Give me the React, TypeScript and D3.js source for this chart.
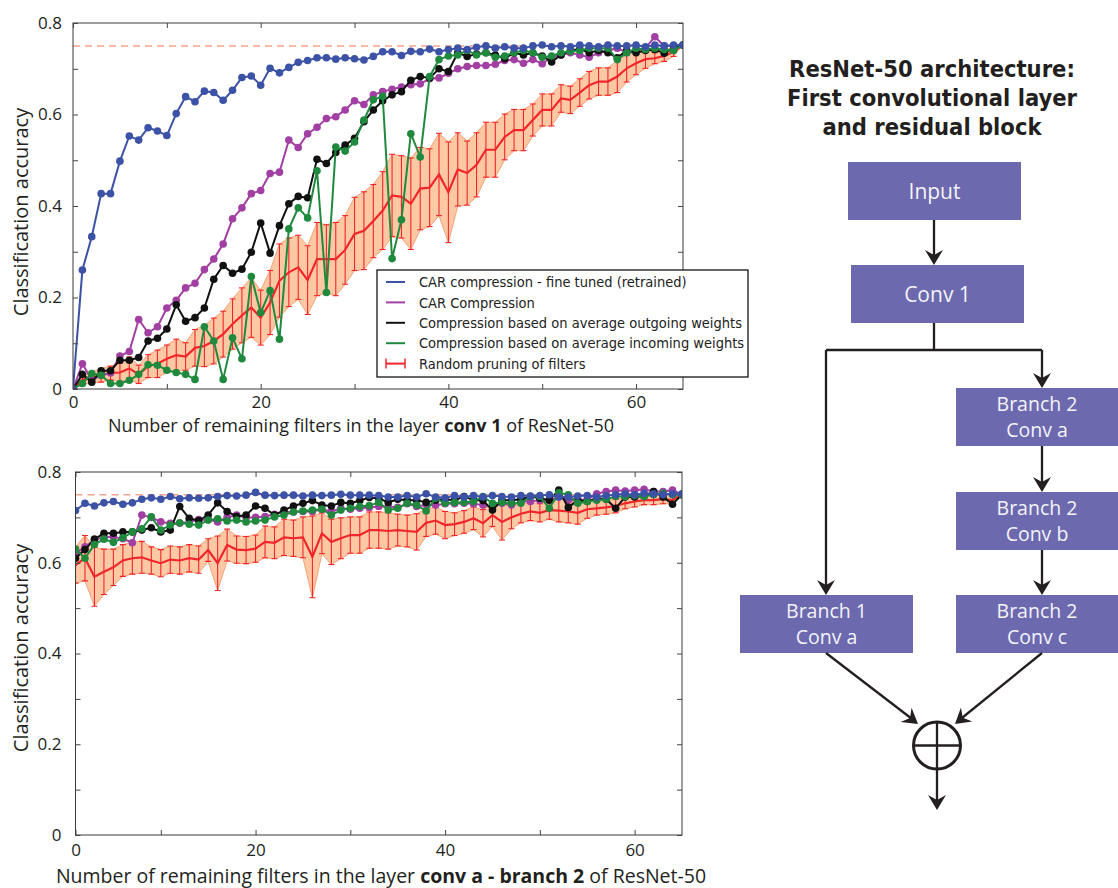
import React, { useEffect, useRef } from "react";
import * as d3 from "d3";

// ---- conv 1 panel (remaining filters 0..65) ----
const topFilters = d3.range(0, 66);
const blueTop = [0.0, 0.26, 0.333, 0.427, 0.427, 0.498, 0.553, 0.544, 0.571, 0.564,
  0.554, 0.602, 0.639, 0.628, 0.651, 0.648, 0.631, 0.653, 0.681, 0.684,
  0.664, 0.701, 0.691, 0.703, 0.714, 0.718, 0.724, 0.724, 0.721, 0.724,
  0.722, 0.719, 0.727, 0.737, 0.737, 0.729, 0.738, 0.737, 0.743, 0.737,
  0.742, 0.745, 0.742, 0.747, 0.75, 0.745, 0.748, 0.745, 0.745, 0.75,
  0.752, 0.748, 0.75, 0.748, 0.752, 0.75, 0.748, 0.752, 0.75, 0.75,
  0.752, 0.748, 0.752, 0.75, 0.752, 0.752];
const purpleTop = [0.0, 0.055, 0.02, 0.03, 0.035, 0.072, 0.082, 0.152, 0.123, 0.136,
  0.177, 0.194, 0.221, 0.231, 0.261, 0.284, 0.317, 0.372, 0.396, 0.427,
  0.434, 0.471, 0.474, 0.544, 0.528, 0.558, 0.572, 0.591, 0.595, 0.61,
  0.63, 0.622, 0.643, 0.65, 0.655, 0.66, 0.665, 0.667, 0.678, 0.68,
  0.69, 0.7, 0.705, 0.707, 0.707, 0.71, 0.718, 0.72, 0.712, 0.72,
  0.711, 0.725, 0.73, 0.735, 0.73, 0.725, 0.735, 0.74, 0.745, 0.735,
  0.74, 0.745, 0.77, 0.75, 0.75, 0.752];
const blackTop = [0.0, 0.032, 0.015, 0.04, 0.04, 0.063, 0.063, 0.069, 0.105, 0.111,
  0.131, 0.184, 0.148, 0.156, 0.177, 0.24, 0.27, 0.253, 0.262, 0.299,
  0.363, 0.297, 0.357, 0.405, 0.421, 0.418, 0.502, 0.493, 0.517, 0.533,
  0.548, 0.584, 0.61, 0.63, 0.643, 0.65, 0.675, 0.683, 0.68, 0.7,
  0.694, 0.735, 0.727, 0.732, 0.735, 0.73, 0.722, 0.735, 0.73, 0.735,
  0.728, 0.715, 0.73, 0.74, 0.743, 0.735, 0.74, 0.735, 0.724, 0.74,
  0.735, 0.74, 0.742, 0.734, 0.745, 0.752];
const greenTop = [0.0, 0.012, 0.034, 0.03, 0.012, 0.012, 0.019, 0.032, 0.053, 0.052,
  0.041, 0.036, 0.032, 0.021, 0.136, 0.105, 0.021, 0.112, 0.066, 0.246,
  0.167, 0.215, 0.109, 0.35, 0.396, 0.374, 0.477, 0.211, 0.529, 0.52,
  0.54, 0.588, 0.632, 0.64, 0.285, 0.37, 0.558, 0.507, 0.683, 0.72,
  0.728, 0.73, 0.74, 0.73, 0.735, 0.725, 0.728, 0.735, 0.74, 0.735,
  0.725, 0.728, 0.735, 0.738, 0.74, 0.745, 0.745, 0.745, 0.72, 0.735,
  0.745, 0.742, 0.745, 0.742, 0.74, 0.752];
const redTop = [0.0, 0.02, 0.025, 0.03, 0.035, 0.036, 0.045, 0.032, 0.05, 0.055,
  0.066, 0.074, 0.071, 0.09, 0.094, 0.105, 0.12, 0.142, 0.161, 0.178,
  0.156, 0.189, 0.237, 0.255, 0.266, 0.238, 0.284, 0.284, 0.284, 0.304,
  0.339, 0.346, 0.367, 0.39, 0.423, 0.42, 0.405, 0.438, 0.44, 0.469,
  0.43, 0.48, 0.472, 0.49, 0.523, 0.523, 0.551, 0.566, 0.566, 0.588,
  0.61, 0.61, 0.635, 0.632, 0.648, 0.664, 0.672, 0.672, 0.683, 0.701,
  0.712, 0.721, 0.723, 0.728, 0.737, 0.752];
const redTopStd = [0, 0.01, 0.012, 0.015, 0.015, 0.02, 0.025, 0.02, 0.025, 0.03,
  0.03, 0.035, 0.03, 0.04, 0.045, 0.05, 0.05, 0.055, 0.06, 0.065,
  0.06, 0.07, 0.08, 0.075, 0.07, 0.075, 0.08, 0.075, 0.08, 0.075,
  0.08, 0.085, 0.08, 0.085, 0.09, 0.09, 0.1, 0.09, 0.085, 0.09,
  0.11, 0.08, 0.07, 0.07, 0.06, 0.06, 0.05, 0.045, 0.045, 0.035,
  0.035, 0.035, 0.03, 0.03, 0.03, 0.03, 0.03, 0.03, 0.035, 0.03,
  0.025, 0.02, 0.012, 0.012, 0.01, 0];

// ---- conv a - branch 2 panel (remaining filters 1..65) ----
const botFilters = d3.range(1, 66);
const blueBot = [0.715, 0.731, 0.725, 0.732, 0.735, 0.729, 0.732, 0.74, 0.743, 0.74,
  0.746, 0.741, 0.743, 0.742, 0.743, 0.746, 0.748, 0.747, 0.749, 0.755,
  0.749, 0.748, 0.749, 0.749, 0.747, 0.749, 0.748, 0.749, 0.751, 0.749,
  0.749, 0.749, 0.748, 0.745, 0.745, 0.748, 0.745, 0.752, 0.745, 0.743,
  0.748, 0.745, 0.748, 0.745, 0.748, 0.746, 0.745, 0.748, 0.747, 0.748,
  0.75, 0.745, 0.745, 0.747, 0.748, 0.745, 0.748, 0.75, 0.752, 0.75,
  0.753, 0.752, 0.75, 0.752, 0.752];
const purpleBot = [0.62, 0.635, 0.65, 0.657, 0.657, 0.653, 0.644, 0.705, 0.7, 0.69,
  0.687, 0.687, 0.69, 0.695, 0.695, 0.69, 0.7, 0.705, 0.7, 0.7,
  0.702, 0.707, 0.712, 0.712, 0.713, 0.713, 0.718, 0.713, 0.72, 0.718,
  0.72, 0.722, 0.724, 0.724, 0.722, 0.73, 0.724, 0.728, 0.727, 0.73,
  0.73, 0.731, 0.73, 0.727, 0.724, 0.731, 0.727, 0.735, 0.735, 0.738,
  0.738, 0.745, 0.738, 0.738, 0.74, 0.752, 0.757, 0.76, 0.758, 0.76,
  0.762, 0.757, 0.757, 0.76, 0.75];
const blackBot = [0.61, 0.629, 0.652, 0.665, 0.665, 0.668, 0.668, 0.672, 0.677, 0.668,
  0.672, 0.724, 0.698, 0.693, 0.705, 0.732, 0.713, 0.702, 0.705, 0.725,
  0.72, 0.705, 0.716, 0.725, 0.731, 0.737, 0.727, 0.725, 0.733, 0.731,
  0.737, 0.744, 0.742, 0.733, 0.74, 0.738, 0.738, 0.733, 0.738, 0.74,
  0.738, 0.746, 0.738, 0.737, 0.716, 0.738, 0.738, 0.74, 0.746, 0.742,
  0.738, 0.76, 0.722, 0.738, 0.735, 0.742, 0.74, 0.72, 0.745, 0.745,
  0.747, 0.757, 0.745, 0.729, 0.75];
const greenBot = [0.63, 0.61, 0.64, 0.652, 0.645, 0.655, 0.668, 0.675, 0.701, 0.672,
  0.683, 0.688, 0.685, 0.683, 0.694, 0.697, 0.692, 0.694, 0.69, 0.692,
  0.694, 0.701, 0.705, 0.712, 0.714, 0.716, 0.718, 0.705, 0.716, 0.72,
  0.724, 0.726, 0.733, 0.716, 0.72, 0.731, 0.727, 0.714, 0.742, 0.731,
  0.733, 0.733, 0.735, 0.746, 0.731, 0.733, 0.731, 0.731, 0.746, 0.746,
  0.72, 0.754, 0.75, 0.731, 0.735, 0.738, 0.74, 0.746, 0.746, 0.748,
  0.746, 0.75, 0.753, 0.75, 0.75];
const redBot = [0.595, 0.61, 0.569, 0.58, 0.59, 0.605, 0.61, 0.612, 0.605, 0.599,
  0.607, 0.605, 0.61, 0.607, 0.628, 0.599, 0.639, 0.629, 0.628, 0.631,
  0.646, 0.644, 0.656, 0.654, 0.656, 0.613, 0.665, 0.646, 0.654, 0.661,
  0.661, 0.672, 0.672, 0.67, 0.672, 0.67, 0.668, 0.688, 0.693, 0.683,
  0.685, 0.69, 0.698, 0.687, 0.705, 0.69, 0.7, 0.708, 0.713, 0.71,
  0.716, 0.715, 0.713, 0.71, 0.718, 0.72, 0.722, 0.725, 0.731, 0.735,
  0.738, 0.738, 0.74, 0.738, 0.751];
const redBotStd = [0.04, 0.05, 0.065, 0.05, 0.04, 0.035, 0.035, 0.035, 0.03, 0.03,
  0.03, 0.03, 0.03, 0.03, 0.025, 0.06, 0.035, 0.03, 0.03, 0.03,
  0.035, 0.035, 0.04, 0.04, 0.045, 0.09, 0.045, 0.05, 0.045, 0.04,
  0.04, 0.04, 0.04, 0.04, 0.035, 0.035, 0.04, 0.03, 0.03, 0.03,
  0.025, 0.025, 0.025, 0.03, 0.025, 0.04, 0.025, 0.02, 0.02, 0.02,
  0.02, 0.025, 0.025, 0.025, 0.02, 0.015, 0.015, 0.015, 0.012, 0.012,
  0.01, 0.01, 0.01, 0.008, 0];

const baseline = 0.75; // unpruned network accuracy (dashed)
const yTicks = [0, 0.1, 0.2, 0.3, 0.4, 0.5, 0.6, 0.7, 0.8];
const legendNames = [
  "CAR compression - fine tuned (retrained)",
  "CAR Compression",
  "Compression based on average outgoing weights",
  "Compression based on average incoming weights",
  "Random pruning of filters",
];
const C = {
  blue: "#3b52a6",
  purple: "#a23fa3",
  black: "#111111",
  green: "#1f8a3e",
  red: "#f2262a",
  band: "#fcc9a4",
  bandEdge: "#f6a277",
  dash: "#f5a38c",
  box: "#6c69ae",
  ink: "#231f20",
};
const legendColors = [C.blue, C.purple, C.black, C.green, C.red];

const FONT = "'Open Sans', 'Noto Sans', sans-serif";
const COND = "'DejaVu Sans Condensed', 'DejaVu Sans', sans-serif";

type Panel = {
  id: string;
  xs: number[];
  blue: number[];
  purple: number[];
  black: number[];
  green: number[];
  red: number[];
  redStd: number[];
  xDomain: [number, number];
  left: number; right: number; top: number; bottom: number;
  xTicks: number[];
  xTickText: (d: number) => string;
  xPad: number; yPad: number;
  titleX: number; titleY: number; titleSize: number; yTitleY: number;
  layer: string;
};

function drawPanel(svg: any, p: Panel) {
  const x = d3.scaleLinear().domain(p.xDomain).range([p.left, p.right]);
  const y = d3.scaleLinear().domain([0, 0.8]).range([p.bottom, p.top]);

  svg.append("clipPath").attr("id", p.id)
    .append("rect")
    .attr("x", p.left).attr("y", p.top)
    .attr("width", p.right - p.left).attr("height", p.bottom - p.top);

  const g = svg.append("g");
  const plot = g.append("g").attr("clip-path", `url(#${p.id})`);

  plot.append("line")
    .attr("x1", p.left).attr("x2", p.right)
    .attr("y1", y(baseline)).attr("y2", y(baseline))
    .attr("stroke", C.dash).attr("stroke-width", 1.5).attr("stroke-dasharray", "7,5");

  // random pruning: std band + error bars + mean line
  const idx = p.xs.map((_, i) => i);
  const band = d3.area<number>()
    .x(i => x(p.xs[i]))
    .y0(i => y(p.red[i] - p.redStd[i]))
    .y1(i => y(p.red[i] + p.redStd[i]));
  plot.append("path").attr("d", band(idx))
    .attr("fill", C.band).attr("stroke", C.bandEdge).attr("stroke-width", 1);

  const bars = plot.append("g").attr("stroke", C.red).attr("stroke-width", 1.1);
  idx.filter(i => p.redStd[i] > 0).forEach(i => {
    const cx = x(p.xs[i]);
    const lo = y(p.red[i] - p.redStd[i]);
    const hi = y(p.red[i] + p.redStd[i]);
    bars.append("line").attr("x1", cx).attr("x2", cx).attr("y1", lo).attr("y2", hi);
    bars.append("line").attr("x1", cx - 3).attr("x2", cx + 3).attr("y1", lo).attr("y2", lo);
    bars.append("line").attr("x1", cx - 3).attr("x2", cx + 3).attr("y1", hi).attr("y2", hi);
  });

  const line = (vals: number[]) => d3.line<number>().x(i => x(p.xs[i])).y(i => y(vals[i]))(idx);
  plot.append("path").attr("d", line(p.red))
    .attr("fill", "none").attr("stroke", C.red).attr("stroke-width", 2.2);

  const series: [number[], string][] = [
    [p.purple, C.purple], [p.black, C.black], [p.green, C.green], [p.blue, C.blue],
  ];
  series.forEach(([vals, col]) => {
    plot.append("path").attr("d", line(vals))
      .attr("fill", "none").attr("stroke", col).attr("stroke-width", 2);
    plot.append("g").selectAll("circle").data(idx).enter().append("circle")
      .attr("cx", (i: number) => x(p.xs[i])).attr("cy", (i: number) => y(vals[i]))
      .attr("r", 3.8).attr("fill", col);
  });

  // frame + inward ticks on all four sides
  g.append("rect")
    .attr("x", p.left).attr("y", p.top)
    .attr("width", p.right - p.left).attr("height", p.bottom - p.top)
    .attr("fill", "none").attr("stroke", "#3a3a3a").attr("stroke-width", 1);

  const yText = (d: number) => (Math.round(d * 10) % 2 === 0 ? (d === 0 ? "0" : d.toFixed(1)) : "");
  const axes = [
    g.append("g").attr("transform", `translate(0,${p.bottom})`)
      .call(d3.axisBottom(x).tickValues(p.xTicks).tickSize(-5).tickPadding(p.xPad).tickFormat(p.xTickText as any)),
    g.append("g").attr("transform", `translate(0,${p.top})`)
      .call(d3.axisTop(x).tickValues(p.xTicks).tickSize(-5).tickFormat(() => "")),
    g.append("g").attr("transform", `translate(${p.left},0)`)
      .call(d3.axisLeft(y).tickValues(yTicks).tickSize(-5).tickPadding(p.yPad).tickFormat(yText as any)),
    g.append("g").attr("transform", `translate(${p.right},0)`)
      .call(d3.axisRight(y).tickValues(yTicks).tickSize(-5).tickFormat(() => "")),
  ];
  axes.forEach(a => {
    a.select(".domain").remove();
    a.selectAll("line").attr("stroke", "#444");
    a.selectAll("text").attr("font-family", FONT).attr("font-size", 17).attr("fill", C.ink);
  });

  const xt = g.append("text")
    .attr("x", p.titleX).attr("y", p.titleY).attr("text-anchor", "middle")
    .attr("font-family", FONT).attr("font-size", p.titleSize).attr("fill", C.ink);
  xt.append("tspan").text("Number of remaining filters in the layer ");
  xt.append("tspan").attr("font-weight", "bold").text(p.layer);
  xt.append("tspan").text(" of ResNet-50");

  g.append("text")
    .attr("transform", `translate(28,${p.yTitleY}) rotate(-90)`)
    .attr("text-anchor", "middle")
    .attr("font-family", FONT).attr("font-size", 20).attr("fill", C.ink)
    .text("Classification accuracy");
}

function drawLegend(svg: any) {
  const g = svg.append("g").attr("transform", "translate(377,270)");
  g.append("rect").attr("width", 371).attr("height", 107)
    .attr("fill", "#fff").attr("stroke", "#000").attr("stroke-width", 1.2);
  legendNames.forEach((name, i) => {
    const cy = 12 + i * 20.4;
    const row = g.append("g").attr("transform", `translate(0,${cy})`);
    row.append("line").attr("x1", 9).attr("x2", 28).attr("y1", 0).attr("y2", 0)
      .attr("stroke", legendColors[i]).attr("stroke-width", 2);
    if (i === 4) {
      row.append("line").attr("x1", 9).attr("x2", 9).attr("y1", -5).attr("y2", 5).attr("stroke", C.red).attr("stroke-width", 1.5);
      row.append("line").attr("x1", 28).attr("x2", 28).attr("y1", -5).attr("y2", 5).attr("stroke", C.red).attr("stroke-width", 1.5);
    }
    row.append("text").attr("x", 42).attr("y", 0).attr("dy", "0.36em")
      .attr("font-family", COND).attr("font-stretch", "condensed")
      .attr("font-size", 14.5).attr("fill", "#222").text(name);
  });
}

function arrowHead(g: any, tx: number, ty: number, angle: number) {
  g.append("path").attr("d", "M0,0 L-15,-9 L-10,0 L-15,9 Z")
    .attr("transform", `translate(${tx},${ty}) rotate(${angle})`)
    .attr("fill", C.ink);
}

function drawDiagram(svg: any) {
  const g = svg.append("g");
  const title = ["ResNet-50 architecture:", "First convolutional layer", "and residual block"];
  title.forEach((t, i) => {
    g.append("text").attr("x", 932).attr("y", 77 + i * 29).attr("text-anchor", "middle")
      .attr("font-family", COND).attr("font-stretch", "condensed").attr("font-weight", "bold")
      .attr("font-size", 23.5).attr("fill", C.ink).text(t);
  });

  const boxes = [
    { lines: ["Input"], x: 848, y: 162, w: 173, h: 58 },
    { lines: ["Conv 1"], x: 851, y: 265, w: 173, h: 58 },
    { lines: ["Branch 2", "Conv a"], x: 956, y: 388, w: 162, h: 58 },
    { lines: ["Branch 2", "Conv b"], x: 956, y: 492, w: 162, h: 58 },
    { lines: ["Branch 1", "Conv a"], x: 740, y: 595, w: 173, h: 58 },
    { lines: ["Branch 2", "Conv c"], x: 956, y: 595, w: 162, h: 58 },
  ];
  boxes.forEach(b => {
    g.append("rect").attr("x", b.x).attr("y", b.y).attr("width", b.w).attr("height", b.h).attr("fill", C.box);
    b.lines.forEach((t, i) => {
      const cy = b.lines.length === 1 ? b.y + b.h / 2 : b.y + b.h / 2 + (i === 0 ? -13 : 12.5);
      g.append("text").attr("x", b.x + b.w / 2).attr("y", cy).attr("dy", "0.36em")
        .attr("text-anchor", "middle").attr("font-family", FONT)
        .attr("font-size", b.lines.length === 1 ? 21 : 19.5)
        .attr("fill", "#f4f4fa").text(t);
    });
  });

  const stroke = (pts: [number, number][]) =>
    g.append("path").attr("d", d3.line()(pts)).attr("fill", "none")
      .attr("stroke", C.ink).attr("stroke-width", 2.3);

  stroke([[934, 220], [934, 262]]); arrowHead(g, 934, 265, 90);
  stroke([[934, 323], [934, 350]]);
  stroke([[826, 350], [1042, 350]]);
  stroke([[1042, 350], [1042, 385]]); arrowHead(g, 1042, 388, 90);
  stroke([[826, 350], [826, 592]]); arrowHead(g, 826, 595, 90);
  stroke([[1042, 446], [1042, 489]]); arrowHead(g, 1042, 492, 90);
  stroke([[1042, 550], [1042, 592]]); arrowHead(g, 1042, 595, 90);
  stroke([[826, 653], [916, 722]]); arrowHead(g, 918, 724, 37.5);
  stroke([[1042, 653], [957, 722]]); arrowHead(g, 955, 724, 140.8);

  g.append("circle").attr("cx", 937).attr("cy", 745.5).attr("r", 23.5)
    .attr("fill", "#fff").attr("stroke", C.ink).attr("stroke-width", 3);
  stroke([[913.5, 745.5], [960.5, 745.5]]);
  stroke([[937, 722], [937, 807]]); arrowHead(g, 937, 810, 90);
}

export default function App() {
  const ref = useRef<SVGSVGElement>(null);

  useEffect(() => {
    const svg = d3.select(ref.current);
    svg.selectAll("*").remove();

    drawPanel(svg, {
      id: "clip-top", xs: topFilters,
      blue: blueTop, purple: purpleTop, black: blackTop, green: greenTop,
      red: redTop, redStd: redTopStd,
      xDomain: [0, 65], left: 73, right: 683, top: 23, bottom: 389,
      xTicks: [0, 10, 20, 30, 40, 50, 60],
      xTickText: d => (d % 20 === 0 ? String(d) : ""),
      xPad: 7, yPad: 11,
      titleX: 361, titleY: 432, titleSize: 18, yTitleY: 212, layer: "conv 1",
    });
    drawPanel(svg, {
      id: "clip-bot", xs: botFilters,
      blue: blueBot, purple: purpleBot, black: blackBot, green: greenBot,
      red: redBot, redStd: redBotStd,
      xDomain: [1, 65], left: 75.5, right: 682, top: 472, bottom: 835,
      xTicks: [1, 10, 20, 30, 40, 50, 60],
      xTickText: d => (d === 1 ? "0" : d % 20 === 0 ? String(d) : ""),
      xPad: 9, yPad: 14,
      titleX: 381, titleY: 883, titleSize: 19.5, yTitleY: 648, layer: "conv a - branch 2",
    });
    drawLegend(svg);
    drawDiagram(svg);
  }, []);

  return (
    <svg
      ref={ref}
      width={1118}
      height={888}
      style={{ position: "absolute", left: 0, top: 0, background: "#fff" }}
    />
  );
}
